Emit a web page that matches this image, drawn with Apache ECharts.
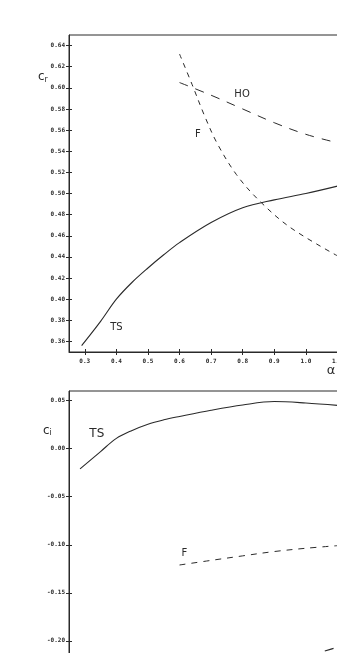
<!DOCTYPE html>
<html>
<head>
<meta charset="utf-8">
<script src="https://cdn.jsdelivr.net/npm/echarts@6/dist/echarts.min.js"></script>
<style>
html,body{margin:0;padding:0;background:#fff;overflow:hidden;width:337px;height:653px;}
#c{width:369px;height:689px;}
</style>
</head>
<body>
<div id="c"></div>
<script>
// ---- data ----
// top panel: c_r vs alpha
var tsTopAlpha = [0.29, 0.35, 0.40, 0.45, 0.50, 0.55, 0.60, 0.70, 0.80, 0.90, 1.00, 1.10];
var tsTopCr    = [0.356, 0.379, 0.400, 0.416, 0.4295, 0.442, 0.4535, 0.4725, 0.4865, 0.494, 0.500, 0.507];
var hoTopAlpha = [0.60, 0.70, 0.80, 0.90, 1.00, 1.10];
var hoTopCr    = [0.605, 0.593, 0.580, 0.567, 0.556, 0.548];
var fTopAlpha  = [0.60, 0.64, 0.68, 0.72, 0.78, 0.85, 0.95, 1.10];
var fTopCr     = [0.632, 0.603, 0.573, 0.547, 0.518, 0.494, 0.468, 0.441];
// bottom panel: c_i vs alpha
var tsBotAlpha = [0.285, 0.35, 0.40, 0.45, 0.50, 0.55, 0.60, 0.70, 0.80, 0.90, 1.00, 1.10];
var tsBotCi    = [-0.021, -0.003, 0.0107, 0.019, 0.0255, 0.030, 0.0335, 0.040, 0.0455, 0.049, 0.0475, 0.045];
var fBotAlpha  = [0.60, 0.70, 0.80, 0.90, 1.00, 1.10];
var fBotCi     = [-0.121, -0.1162, -0.1115, -0.107, -0.1036, -0.1009];
var hoBotAlpha = [1.06, 1.10];
var hoBotCi    = [-0.2105, -0.2065];
// tick labels
var xTicks    = [0.3, 0.4, 0.5, 0.6, 0.7, 0.8, 0.9, 1.0, 1.1];
var crTicks   = [0.36, 0.38, 0.40, 0.42, 0.44, 0.46, 0.48, 0.50, 0.52, 0.54, 0.56, 0.58, 0.60, 0.62, 0.64];
var ciTicks   = [-0.25, -0.20, -0.15, -0.10, -0.05, 0.00, 0.05];
// curve annotations: [text, alpha, value, panel, fontSize]
var annotations = [
  ['TS', 0.40, 0.3735, 0, 10],
  ['HO', 0.798, 0.594, 0, 10],
  ['F', 0.658, 0.556, 0, 10],
  ['TS', 0.338, 0.0149, 1, 12],
  ['F', 0.615, -0.1088, 1, 10]
];

function pairs(xs, ys){ return xs.map(function(x,i){ return [x, ys[i]]; }); }

var ink = '#2a2a2a';
var labelFont = {fontFamily:'DejaVu Sans Mono', fontSize:6, color:ink, fontWeight:'bold'};

function xAxes(gi, showLabels){
  var base = {type:'value', gridIndex:gi, min:0.25, max:1.2, position:'bottom',
    splitLine:{show:false}};
  return [
    Object.assign({}, base, {
      axisLine:{show:true, onZero:false, lineStyle:{color:ink, width:1}},
      axisTick:{show:true, inside:false, length:3, customValues:xTicks, lineStyle:{color:ink}},
      axisLabel:Object.assign({show:showLabels, margin:6, customValues:xTicks,
        formatter:function(v){return v.toFixed(1);}}, labelFont)
    }),
    Object.assign({}, base, {
      axisLine:{show:false, onZero:false},
      axisTick:{show:true, inside:true, length:3, customValues:xTicks, lineStyle:{color:ink}},
      axisLabel:{show:false}
    })
  ];
}
function yAxes(gi, min, max, ticks){
  var base = {type:'value', gridIndex:gi, min:min, max:max, position:'left', splitLine:{show:false}};
  return [
    Object.assign({}, base, {
      axisLine:{show:true, onZero:false, lineStyle:{color:ink, width:1}},
      axisTick:{show:true, inside:false, length:3, customValues:ticks, lineStyle:{color:ink}},
      axisLabel:Object.assign({show:true, margin:4, customValues:ticks,
        formatter:function(v){return v.toFixed(2);}}, labelFont)
    }),
    Object.assign({}, base, {
      axisLine:{show:false, onZero:false},
      axisTick:{show:true, inside:true, length:3, customValues:ticks, lineStyle:{color:ink}},
      axisLabel:{show:false}
    })
  ];
}

var chart = echarts.init(document.getElementById('c'), null, {renderer:'canvas'});
var lineCommon = {type:'line', showSymbol:false, smooth:0.35};
var option = {
  backgroundColor:'#fff',
  animation:false,
  grid:[
    {left:69, top:35, right:0, bottom:337, show:true, borderColor:ink, borderWidth:1,
      backgroundColor:'transparent', containLabel:false, outerBoundsMode:'none'},
    {left:69, top:391, right:0, bottom:0, show:true, borderColor:ink, borderWidth:1,
      backgroundColor:'transparent', containLabel:false, outerBoundsMode:'none'}
  ],
  xAxis: xAxes(0, true).concat(xAxes(1, false)),
  yAxis: yAxes(0, 0.35, 0.65, crTicks).concat(yAxes(1, -0.25, 0.06, ciTicks)),
  series:[
    Object.assign({name:'TS', xAxisIndex:0, yAxisIndex:0, data:pairs(tsTopAlpha, tsTopCr),
      lineStyle:{color:ink, width:1.1}}, lineCommon),
    Object.assign({name:'HO', xAxisIndex:0, yAxisIndex:0, data:pairs(hoTopAlpha, hoTopCr),
      lineStyle:{color:ink, width:1, type:[9,8]}}, lineCommon),
    Object.assign({name:'F', xAxisIndex:0, yAxisIndex:0, data:pairs(fTopAlpha, fTopCr),
      lineStyle:{color:ink, width:1, type:[5,5]}}, lineCommon),
    Object.assign({name:'TS', xAxisIndex:2, yAxisIndex:2, data:pairs(tsBotAlpha, tsBotCi),
      lineStyle:{color:ink, width:1.1}}, lineCommon),
    Object.assign({name:'F', xAxisIndex:2, yAxisIndex:2, data:pairs(fBotAlpha, fBotCi),
      lineStyle:{color:ink, width:1, type:[6,6]}}, lineCommon),
    Object.assign({name:'HO', xAxisIndex:2, yAxisIndex:2, data:pairs(hoBotAlpha, hoBotCi),
      lineStyle:{color:ink, width:1.2, type:[9,8]}}, lineCommon)
  ]
};
chart.setOption(option);

var g = [];
annotations.forEach(function(a){
  var p = chart.convertToPixel({xAxisIndex: a[3]*2, yAxisIndex: a[3]*2}, [a[1], a[2]]);
  g.push({type:'text', x:p[0], y:p[1], style:{text:a[0], fill:ink,
    font:a[4]+'px "DejaVu Sans"', textAlign:'center', textVerticalAlign:'middle'}});
});
// axis titles
var richTitle = {c:{fontSize:12, fontFamily:'DejaVu Sans', fill:ink},
                 s:{fontSize:8, fontFamily:'DejaVu Sans', fill:ink, padding:[6,0,0,0]}};
var pr = chart.convertToPixel({xAxisIndex:0, yAxisIndex:0}, [0.25, 0.610]);
g.push({type:'text', x:pr[0]-31, y:pr[1], style:{text:'{c|c}{s|r}', rich:richTitle, textVerticalAlign:'middle'}});
var pi = chart.convertToPixel({xAxisIndex:2, yAxisIndex:2}, [0.25, 0.019]);
g.push({type:'text', x:pi[0]-26, y:pi[1], style:{text:'{c|c}{s|i}', rich:richTitle, textVerticalAlign:'middle'}});
var pa = chart.convertToPixel({xAxisIndex:0, yAxisIndex:0}, [1.08, 0.35]);
g.push({type:'text', x:pa[0], y:pa[1]+19, style:{text:'α', fill:ink,
  font:'13px "DejaVu Sans"', textAlign:'center', textVerticalAlign:'middle'}});
chart.setOption({graphic:g});
</script>
</body>
</html>
